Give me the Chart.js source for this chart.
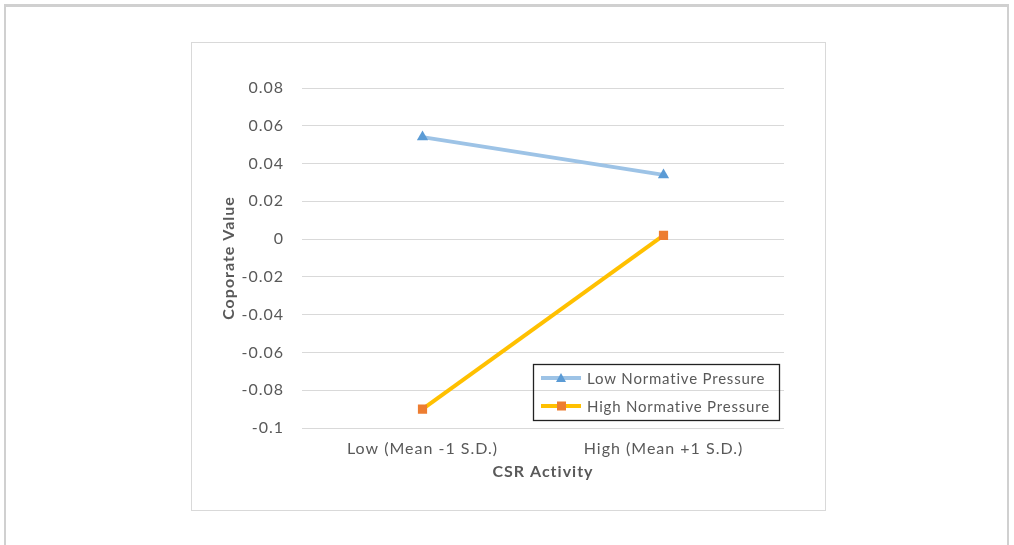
<!DOCTYPE html>
<html>
<head>
<meta charset="utf-8">
<script src="https://cdn.jsdelivr.net/npm/chart.js@4.4.1/dist/chart.umd.min.js"></script>
<style>
  body { margin: 0; background: #fff; }
  .frame {
    position: absolute; left: 4px; top: 4px; width: 1005px; height: 560px;
    border: 2px solid #d0d0d0; border-top-width: 3px; border-bottom: none; box-sizing: border-box;
  }
  .chart-box {
    position: absolute; left: 191px; top: 42px; width: 635px; height: 469px;
    border: 1px solid #d9d9d9; box-sizing: border-box; background: #fff;
  }
  .chart-box canvas { position: absolute; left: -1px; top: -1px; }
</style>
</head>
<body>
<div class="frame"></div>
<div class="chart-box"><canvas id="plotChart" width="635" height="469"></canvas></div>
<script>
// Chart data
const categories = ['Low (Mean -1 S.D.)', 'High (Mean +1 S.D.)'];
const lowPressure = [0.054, 0.034];
const highPressure = [-0.090, 0.002];
const seriesNames = ['Low Normative Pressure', 'High Normative Pressure'];
const yTicks = [0.08, 0.06, 0.04, 0.02, 0, -0.02, -0.04, -0.06, -0.08, -0.1];

const fontFamily = 'Lato, "Open Sans", sans-serif';
const textColor = '#595959';

// the original text is set loose, so widen it a bit
const spacing = {
    id: 'spacing',
    beforeDraw(chart) { chart.ctx.letterSpacing = '1px'; }
};

// legend drawn inside the plot area, like the Excel original
const insideLegend = {
    id: 'insideLegend',
    afterDraw(chart) {
        const ctx = chart.ctx;
        const x = 342, y = 322, w = 246, h = 56;
        ctx.save();
        ctx.strokeStyle = '#222';
        ctx.lineWidth = 1.3;
        ctx.strokeRect(x + 0.5, y + 0.5, w, h);
        ctx.font = '15px ' + fontFamily;
        ctx.letterSpacing = '0.8px';
        ctx.textBaseline = 'middle';
        chart.data.datasets.forEach((ds, i) => {
            const cy = y + 14 + i * 28;
            ctx.strokeStyle = ds.borderColor;
            ctx.lineWidth = ds.borderWidth;
            ctx.beginPath();
            ctx.moveTo(x + 8, cy);
            ctx.lineTo(x + 48, cy);
            ctx.stroke();
            ctx.fillStyle = ds.pointBackgroundColor;
            if (ds.pointStyle === 'triangle') {
                ctx.beginPath();
                ctx.moveTo(x + 28, cy - 5);
                ctx.lineTo(x + 33, cy + 4);
                ctx.lineTo(x + 23, cy + 4);
                ctx.closePath();
                ctx.fill();
            } else {
                ctx.fillRect(x + 24, cy - 4.5, 9, 9);
            }
            ctx.fillStyle = textColor;
            ctx.fillText(ds.label, x + 54, cy + 1);
        });
        ctx.restore();
    }
};

const ctx = document.getElementById('plotChart');
new Chart(ctx, {
    type: 'line',
    data: {
        labels: categories,
        datasets: [
            {
                label: seriesNames[0],
                data: lowPressure,
                borderColor: '#9dc3e6',
                borderWidth: 4,
                pointStyle: 'triangle',
                pointRadius: 6.5,
                pointBackgroundColor: '#5b9bd5',
                pointBorderColor: '#5b9bd5',
                pointBorderWidth: 0
            },
            {
                label: seriesNames[1],
                data: highPressure,
                borderColor: '#ffc000',
                borderWidth: 4,
                pointStyle: 'rect',
                pointRadius: 6.5,
                pointBackgroundColor: '#ed7d31',
                pointBorderColor: '#ed7d31',
                pointBorderWidth: 0
            }
        ]
    },
    options: {
        responsive: false,
        animation: false,
        layout: { padding: { left: 0, right: 42, top: 46, bottom: 0 } },
        plugins: {
            legend: { display: false },
            tooltip: { enabled: false }
        },
        scales: {
            x: {
                offset: true,
                afterFit(scale) { scale.height = 83; },
                grid: { display: false },
                border: { display: false },
                ticks: { color: textColor, font: { family: fontFamily, size: 16 }, padding: 3 },
                title: {
                    display: true,
                    text: 'CSR Activity',
                    color: textColor,
                    font: { family: fontFamily, size: 16, weight: 'bold' },
                    padding: { bottom: 30 }
                }
            },
            y: {
                min: -0.1,
                max: 0.08,
                afterFit(scale) { scale.width = 111; },
                afterBuildTicks(scale) { scale.ticks = yTicks.map(v => ({ value: v })); },
                grid: { color: '#d9d9d9', drawTicks: false },
                border: { display: false },
                ticks: {
                    color: textColor,
                    font: { family: fontFamily, size: 16 },
                    padding: 18,
                    callback: v => String(Math.round(v * 100) / 100)
                },
                title: {
                    display: true,
                    text: 'Coporate Value',
                    color: textColor,
                    font: { family: fontFamily, size: 16, weight: 'bold' },
                    padding: { top: 28 }
                }
            }
        }
    },
    plugins: [spacing, insideLegend]
});
</script>
</body>
</html>
